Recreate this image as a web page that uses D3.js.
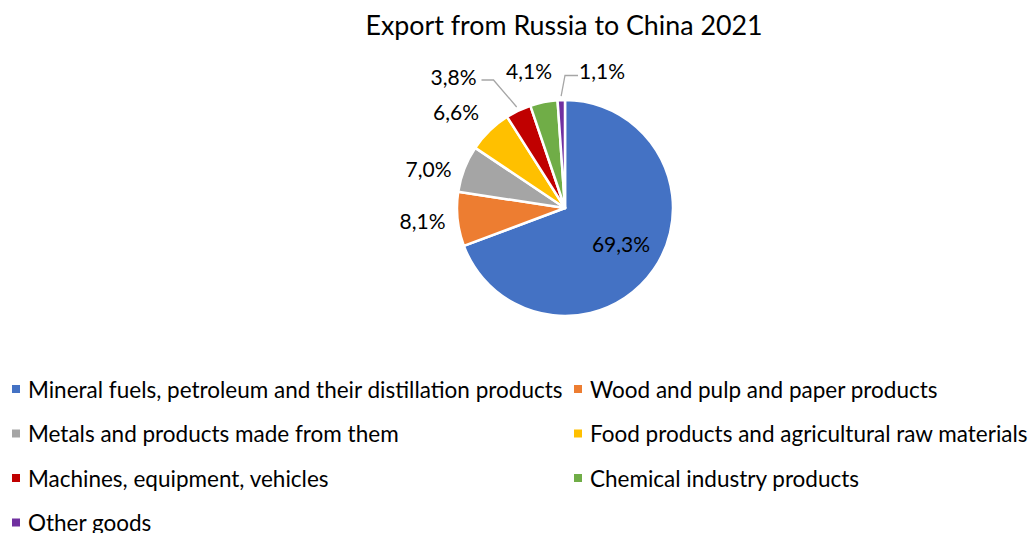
<!DOCTYPE html>
<html>
<head>
<meta charset="utf-8">
<script src="https://cdn.jsdelivr.net/npm/d3@7/dist/d3.min.js"></script>
<style>
  html, body { margin: 0; padding: 0; background: #fff; }
  svg { display: block; font-family: Lato, "Open Sans", sans-serif; }
</style>
</head>
<body>
<svg id="chart" width="1030" height="533"></svg>
<script>
// Export structure, shares in percent
const categories = [
  "Mineral fuels, petroleum and their distillation products",
  "Wood and pulp and paper products",
  "Metals and products made from them",
  "Food products and agricultural raw materials",
  "Machines, equipment, vehicles",
  "Chemical industry products",
  "Other goods"
];
const shares = [69.3, 8.1, 7.0, 6.6, 3.8, 4.1, 1.1];
const colors = ["#4472C4", "#ED7D31", "#A5A5A5", "#FFC000", "#C00000", "#70AD47", "#7030A0"];
const title = "Export from Russia to China 2021";

const svg = d3.select("#chart");
const cx = 565, cy = 208, R = 108;

svg.append("text")
  .attr("x", cx - 1).attr("y", 35)
  .attr("text-anchor", "middle")
  .attr("font-size", 26.8)
  .attr("fill", "#000")
  .text(title);

const pie = d3.pie().sort(null).value(d => d);
const arcs = pie(shares);
const arc = d3.arc().innerRadius(0).outerRadius(R);

const g = svg.append("g").attr("transform", `translate(${cx},${cy})`);
g.selectAll("path.slice")
  .data(arcs)
  .join("path")
  .attr("class", "slice")
  .attr("d", arc)
  .attr("fill", (d, i) => colors[i])
  .attr("stroke", "#fff")
  .attr("stroke-width", 2.5)
  .attr("stroke-linejoin", "round");

const fmt = v => v.toFixed(1).replace(".", ",") + "%";

// label anchors relative to the pie centre (best-fit placement)
const labelLayout = [
  [56, 35.5],
  [-142.5, 12],
  [-136.5, -40],
  [-109, -97],
  [-111.5, -131.5],
  [-36, -137.5],
  [37, -137.5]
];

// leader lines for the labels that sit away from their slices
const tip = d3.arc().innerRadius(112).outerRadius(112);
const leader = d3.line();
[[4, 1], [6, -1]].forEach(([i, side]) => {
  const e = tip.centroid(arcs[i]);
  const lp = labelLayout[i];
  const elbow = side > 0 ? [lp[0] + 40, lp[1] + 3.5] : [lp[0] - 37, lp[1] + 5];
  const end = side > 0 ? [lp[0] + 28, lp[1] + 3.5] : [lp[0] - 24, lp[1] + 5];
  g.append("path")
    .attr("d", leader([e, elbow, end]))
    .attr("fill", "none")
    .attr("stroke", "#A6A6A6")
    .attr("stroke-width", 1.3);
});

g.selectAll("text.lbl")
  .data(arcs)
  .join("text")
  .attr("class", "lbl")
  .attr("x", (d, i) => labelLayout[i][0])
  .attr("y", (d, i) => labelLayout[i][1])
  .attr("text-anchor", "middle")
  .attr("dominant-baseline", "central")
  .attr("font-size", 21)
  .attr("fill", "#000")
  .text(d => fmt(d.data));

// legend: two columns, rows of 44.5px
const legend = svg.append("g");
const colX = [12, 574];
const rowY0 = 389, rowH = 44.5;
const items = legend.selectAll("g.item")
  .data(categories)
  .join("g")
  .attr("class", "item")
  .attr("transform", (d, i) => `translate(${colX[i % 2]},${rowY0 + Math.floor(i / 2) * rowH})`);
items.append("rect")
  .attr("x", 0).attr("y", -4)
  .attr("width", 8).attr("height", 8)
  .attr("fill", (d, i) => colors[i]);
items.append("text")
  .attr("x", 16).attr("y", 0)
  .attr("dominant-baseline", "central")
  .attr("font-size", 22.5)
  .attr("fill", "#000")
  .text(d => d);
</script>
</body>
</html>
